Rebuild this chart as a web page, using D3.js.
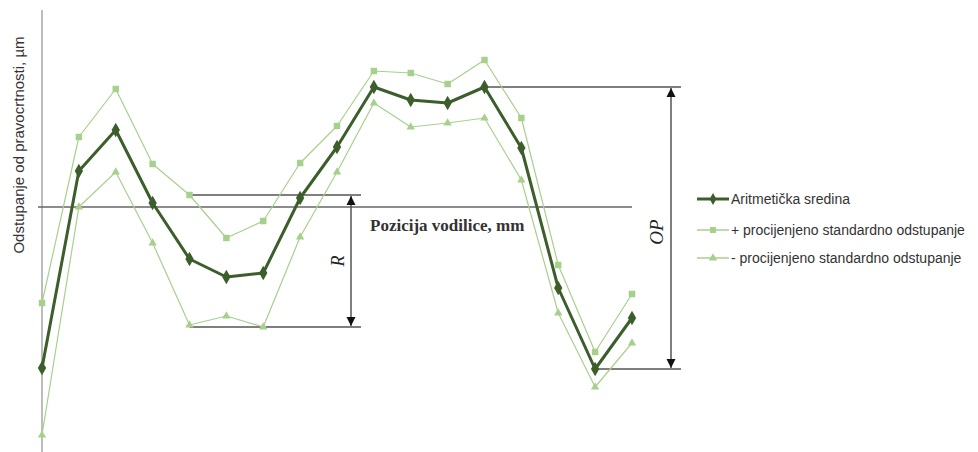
<!DOCTYPE html>
<html>
<head>
<meta charset="utf-8">
<script src="https://cdn.jsdelivr.net/npm/d3@7"></script>
<style>
  body { margin: 0; background: #fff; }
</style>
</head>
<body>
<div id="chart"></div>
<script>
// positions along the guide (no tick labels in the original)
var pozicije = [1, 2, 3, 4, 5, 6, 7, 8, 9, 10, 11, 12, 13, 14, 15, 16, 17];
var sredina = [-8.05, 1.8, 3.85, 0.2, -2.6, -3.5, -3.3, 0.45, 3.0, 6.0, 5.35, 5.2, 6.0, 2.95, -4.05, -8.1, -5.55];
var plusStd = [-4.8, 3.5, 5.9, 2.15, 0.6, -1.55, -0.7, 2.2, 4.05, 6.8, 6.7, 6.15, 7.35, 4.45, -2.9, -7.25, -4.35];
var minusStd = [-11.4, 0, 1.75, -1.8, -5.9, -5.45, -6.0, -1.5, 1.75, 5.2, 4.0, 4.2, 4.45, 1.35, -5.3, -9.0, -6.8];
var legendLabels = ["Aritmetička sredina", "+ procijenjeno standardno odstupanje", "- procijenjeno standardno odstupanje"];

var width = 978, height = 452;
var dark = "#3b5e2b", light = "#a8d08d";

var svg = d3.select("#chart").append("svg")
    .attr("width", width)
    .attr("height", height);

var x = d3.scaleLinear().domain([1, 17]).range([42, 632]);
var y = d3.scaleLinear().domain([-12.25, 9.85]).range([452, 10]);

var defs = svg.append("defs");
defs.append("marker").attr("id", "arr")
    .attr("viewBox", "0 0 10 10").attr("refX", 10).attr("refY", 5)
    .attr("markerWidth", 9).attr("markerHeight", 10)
    .attr("markerUnits", "userSpaceOnUse")
    .attr("orient", "auto-start-reverse")
    .append("path").attr("d", "M0,0L10,5L0,10z").attr("fill", "#111");

// vertical axis
svg.append("line")
    .attr("x1", 42).attr("x2", 42).attr("y1", 10).attr("y2", height)
    .attr("stroke", "#bdbdbd").attr("stroke-width", 2);

// zero line (x axis)
svg.append("line")
    .attr("x1", 38).attr("x2", x(17)).attr("y1", y(0)).attr("y2", y(0))
    .attr("stroke", "#666").attr("stroke-width", 1.5);

svg.append("text")
    .attr("transform", "translate(24,145) rotate(-90)")
    .attr("text-anchor", "middle")
    .style("font-family", "Liberation Sans, Arial, sans-serif")
    .style("font-size", "15px")
    .attr("fill", "#333")
    .text("Odstupanje od pravocrtnosti, µm");

svg.append("text")
    .attr("x", 370).attr("y", 231)
    .style("font-family", "Liberation Serif, Times New Roman, serif")
    .style("font-size", "17px")
    .style("font-weight", "bold")
    .attr("fill", "#333")
    .text("Pozicija vodilice, mm");

// R annotation
var rTop = y(plusStd[4]), rBot = y(minusStd[6]);
svg.append("line").attr("x1", x(5)).attr("x2", 361).attr("y1", rTop).attr("y2", rTop)
    .attr("stroke", "#555").attr("stroke-width", 1.5);
svg.append("line").attr("x1", x(5)).attr("x2", 361).attr("y1", rBot).attr("y2", rBot)
    .attr("stroke", "#555").attr("stroke-width", 1.5);
svg.append("line").attr("x1", 351).attr("x2", 351).attr("y1", rTop + 1).attr("y2", rBot - 1)
    .attr("stroke", "#555").attr("stroke-width", 1.5)
    .attr("marker-start", "url(#arr)").attr("marker-end", "url(#arr)");
svg.append("text")
    .attr("transform", "translate(344," + ((rTop + rBot) / 2) + ") rotate(-90)")
    .attr("text-anchor", "middle")
    .style("font-family", "Liberation Serif, Times New Roman, serif")
    .style("font-style", "italic").style("font-size", "18px")
    .attr("fill", "#222")
    .text("R");

// OP annotation
var opTop = y(sredina[12]), opBot = y(sredina[15]);
svg.append("line").attr("x1", x(13)).attr("x2", 681).attr("y1", opTop).attr("y2", opTop)
    .attr("stroke", "#555").attr("stroke-width", 1.5);
svg.append("line").attr("x1", x(16)).attr("x2", 681).attr("y1", opBot).attr("y2", opBot)
    .attr("stroke", "#555").attr("stroke-width", 1.5);
svg.append("line").attr("x1", 671).attr("x2", 671).attr("y1", opTop + 1).attr("y2", opBot - 1)
    .attr("stroke", "#555").attr("stroke-width", 1.5)
    .attr("marker-start", "url(#arr)").attr("marker-end", "url(#arr)");
svg.append("text")
    .attr("transform", "translate(663,232) rotate(-90)")
    .attr("text-anchor", "middle")
    .style("font-family", "Liberation Serif, Times New Roman, serif")
    .style("font-style", "italic").style("font-size", "19px")
    .attr("fill", "#222")
    .text("OP");

var series = [
    { values: plusStd, color: light, w: 1.2, sym: d3.symbolSquare, size: 42 },
    { values: minusStd, color: light, w: 1.2, sym: d3.symbolTriangle, size: 30 },
    { values: sredina, color: dark, w: 3, sym: d3.symbolDiamond, size: 60 }
];

var line = d3.line()
    .x(function(d, i) { return x(pozicije[i]); })
    .y(function(d) { return y(d); });

series.forEach(function(s) {
    svg.append("path")
        .datum(s.values)
        .attr("d", line)
        .attr("fill", "none")
        .attr("stroke", s.color)
        .attr("stroke-width", s.w)
        .attr("stroke-linejoin", "round");
    svg.selectAll(null).data(s.values).enter().append("path")
        .attr("d", d3.symbol().type(s.sym).size(s.size))
        .attr("transform", function(d, i) { return "translate(" + x(pozicije[i]) + "," + y(d) + ")"; })
        .attr("fill", s.color);
});

// legend
var legend = [
    { label: legendLabels[0], color: dark, w: 3, sym: d3.symbolDiamond, size: 40, y: 199 },
    { label: legendLabels[1], color: light, w: 1.5, sym: d3.symbolSquare, size: 36, y: 230 },
    { label: legendLabels[2], color: light, w: 1.5, sym: d3.symbolTriangle, size: 30, y: 258 }
];
legend.forEach(function(l) {
    svg.append("line").attr("x1", 697).attr("x2", 729).attr("y1", l.y).attr("y2", l.y)
        .attr("stroke", l.color).attr("stroke-width", l.w);
    svg.append("path").attr("d", d3.symbol().type(l.sym).size(l.size)())
        .attr("transform", "translate(713," + l.y + ")").attr("fill", l.color);
    svg.append("text").attr("x", 731).attr("y", l.y + 5)
        .style("font-family", "Liberation Sans, Arial, sans-serif")
        .style("font-size", "14px")
        .attr("fill", "#333")
        .text(l.label);
});
</script>
</body>
</html>
